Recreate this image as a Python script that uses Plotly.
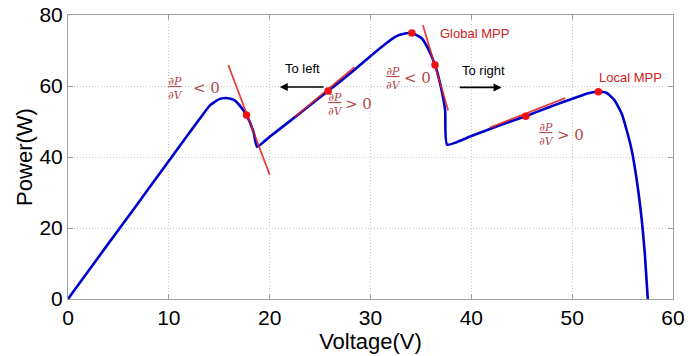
import plotly.graph_objects as go

# P-V curve (Voltage V, Power W)
voltage = [0, 2, 4, 6, 8, 10, 12, 13.1, 14.1, 15.0, 15.6, 16.0, 16.5, 17.0, 17.7, 18.4, 18.75,
           20, 22, 24, 25.8, 28, 29.9, 31.0, 32.4, 33.1, 34.1, 35.1, 35.7, 36.4, 36.9, 37.4, 37.6,
           40, 42.5, 45.4, 47.5, 49.3, 50.5, 51.5, 52.2, 52.6, 53.4, 54.2, 54.9, 55.4, 55.9, 56.4, 56.9, 57.2, 57.5]
power = [0, 7.8, 15.6, 23.3, 31.1, 38.9, 46.7, 50.9, 54.6, 56.3, 56.6, 56.5, 56.0, 54.6, 51.8, 47.1, 42.9,
         45.7, 50.1, 54.6, 58.6, 63.6, 68.2, 70.8, 73.8, 74.6, 74.9, 73.4, 70.6, 65.9, 60.7, 53.2, 43.5,
         45.9, 48.6, 51.5, 53.8, 55.7, 56.9, 57.9, 58.3, 58.4, 58.1, 56.0, 52.3, 47.6, 42.0, 33.6, 22.3, 13.0, 0]

# red tangent lines (start/end points)
tangent_v = [[15.9, 20.0], [22.5, 28.4], [35.2, 37.7], [41.8, 49.3]]
tangent_p = [[65.9, 35.0], [51.3, 65.3], [77.1, 53.2], [48.2, 56.6]]

# red operating points
dot_v = [17.7, 25.8, 34.1, 36.4, 45.4, 52.6]
dot_p = [51.8, 58.6, 74.9, 65.9, 51.5, 58.4]

x_ticks = [0, 10, 20, 30, 40, 50, 60]
y_ticks = [0, 20, 40, 60, 80]

fig = go.Figure()
fig.add_trace(go.Scatter(x=voltage, y=power, mode="lines",
                         line=dict(color="#0000cc", width=2.6, shape="spline", smoothing=0.5),
                         hoverinfo="skip"))
for tv, tp in zip(tangent_v, tangent_p):
    fig.add_trace(go.Scatter(x=tv, y=tp, mode="lines",
                             line=dict(color="rgba(220,30,30,0.85)", width=1.8),
                             hoverinfo="skip"))
fig.add_trace(go.Scatter(x=dot_v, y=dot_p, mode="markers",
                         marker=dict(color="#ee1111", size=7.5), hoverinfo="skip"))

frac_color = "#b04848"
serif = "DejaVu Serif"

def deriv(xf, xs, y, sign):
    fig.add_annotation(x=xf, y=y, xref="x", yref="y", showarrow=False,
                       text="<u><i>∂P</i></u><br><i>∂V</i>",
                       font=dict(family=serif, size=11, color=frac_color), align="center")
    fig.add_annotation(x=xs, y=y, xref="x", yref="y", showarrow=False,
                       text=sign + " 0",
                       font=dict(family=serif, size=15, color=frac_color))

deriv(10.7, 13.7, 59.4, "&lt;")
deriv(26.5, 28.8, 54.8, "&gt;")
deriv(32.3, 34.7, 62.2, "&lt;")
deriv(47.5, 49.8, 46.2, "&gt;")

sans = "Liberation Sans"
fig.add_annotation(x=40.3, y=74.9, text="Global MPP", showarrow=False,
                   font=dict(family=sans, size=13, color="#d02020"))
fig.add_annotation(x=55.8, y=62.3, text="Local MPP", showarrow=False,
                   font=dict(family=sans, size=13, color="#d02020"))
fig.add_annotation(x=23.3, y=64.8, text="To left", showarrow=False,
                   font=dict(family=sans, size=13, color="black"))
fig.add_annotation(x=41.2, y=64.3, text="To right", showarrow=False,
                   font=dict(family=sans, size=13, color="black"))
# arrows
fig.add_annotation(x=21.0, y=59.7, ax=25.5, ay=59.7, axref="x", ayref="y",
                   xref="x", yref="y", text="", showarrow=True,
                   arrowhead=2, arrowsize=1, arrowwidth=1.6, arrowcolor="black")
fig.add_annotation(x=43.0, y=59.6, ax=38.7, ay=59.6, axref="x", ayref="y",
                   xref="x", yref="y", text="", showarrow=True,
                   arrowhead=2, arrowsize=1, arrowwidth=1.6, arrowcolor="black")

axis_common = dict(showline=True, linecolor="#a0a0a0", linewidth=1, mirror="ticks",
                   showgrid=True, gridcolor="#c8c8c8", griddash="1px,2px", gridwidth=1,
                   ticks="inside", ticklen=5, tickcolor="#a0a0a0", zeroline=False,
                   automargin=False, ticklabelstandoff=0, ticklabeloverflow="allow",
                   tickfont=dict(family=sans, size=21, color="black"))

fig.update_xaxes(range=[0, 60], tickvals=x_ticks, **axis_common,
                 title=dict(text="Voltage(V)", font=dict(family=sans, size=22, color="black"),
                            standoff=0))
fig.update_yaxes(range=[0, 80], tickvals=y_ticks, **axis_common,
                 title=dict(text="Power(W)", font=dict(family=sans, size=22, color="black"),
                            standoff=0))

fig.update_layout(width=688, height=356, showlegend=False,
                  margin=dict(l=68, r=15, t=15, b=57),
                  plot_bgcolor="white", paper_bgcolor="white")

# remove the default page margin so the 688x356 figure fills the window exactly
fig.write_html("out.html", config={"displayModeBar": False},
               post_script="document.body.style.margin='0px';document.body.style.overflow='hidden';")
